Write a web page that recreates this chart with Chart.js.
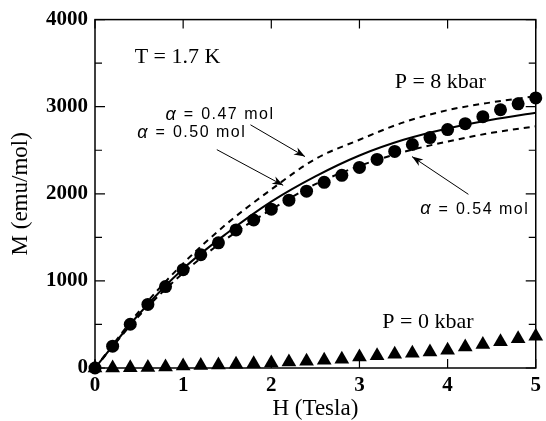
<!DOCTYPE html>
<html>
<head>
<meta charset="utf-8">
<script src="https://cdn.jsdelivr.net/npm/chart.js@4"></script>
<style>
  body { margin: 0; background: #fff; }
  canvas { display: block; }
</style>
</head>
<body>
<canvas id="mh-chart" width="546" height="421"></canvas>
<script>
// field points of the measurements (Tesla)
const fieldSteps = [0, 0.2, 0.4, 0.6, 0.8, 1.0, 1.2, 1.4, 1.6, 1.8, 2.0, 2.2, 2.4, 2.6, 2.8,
                    3.0, 3.2, 3.4, 3.6, 3.8, 4.0, 4.2, 4.4, 4.6, 4.8, 5.0];
// P = 8 kbar (circles)
const m8kbar = [0, 251, 502, 730, 935, 1129, 1300, 1437, 1585, 1699, 1824, 1927, 2030, 2132, 2212,
                2303, 2395, 2486, 2566, 2645, 2737, 2805, 2885, 2965, 3033, 3101];
// P = 0 kbar (triangles)
const m0kbar = [0, 0, 3, 6, 12, 22, 28, 35, 42, 50, 58, 68, 78, 88, 100,
                125, 140, 158, 170, 185, 205, 240, 270, 300, 335, 365];

// fitted curves
const fieldCurve = [0, 0.5, 1.0, 1.5, 2.0, 2.5, 3.0, 3.5, 4.0, 4.5, 5.0];
const fit047 = [0, 650, 1200, 1660, 2050, 2400, 2620, 2820, 2960, 3050, 3120];
const fit050 = [0, 620, 1140, 1550, 1910, 2200, 2440, 2620, 2750, 2850, 2930];
const fit054 = [0, 600, 1090, 1490, 1820, 2110, 2320, 2480, 2600, 2700, 2775];

const xTicks = [0, 1, 2, 3, 4, 5];
const yTicks = [0, 1000, 2000, 3000, 4000];
const yMinorTicks = [500, 1500, 2500, 3500];

const pts = (xs, ys) => xs.map((x, i) => ({x: x, y: ys[i]}));

// text notes, placed in data units
const notes = [
    {text: 'T = 1.7 K', x: 0.45, y: 3567, font: '22px "Liberation Serif"'},
    {text: 'P = 8 kbar', x: 3.40, y: 3282, font: '22px "Liberation Serif"'},
    {text: 'P = 0 kbar', x: 3.26, y: 524, font: '22px "Liberation Serif"'}
];
const alphaNotes = [
    {label: '0.47 mol', x: 0.80, y: 2906, from: [1.764, 2792], to: [2.382, 2427]},
    {label: '0.50 mol', x: 0.48, y: 2701, from: [1.382, 2507], to: [2.135, 2097]},
    {label: '0.54 mol', x: 3.69, y: 1823, from: [4.236, 1994], to: [3.596, 2427]}
];

const framePlugin = {
    id: 'frame',
    afterDraw(chart) {
        const ctx = chart.ctx;
        const xs = chart.scales.x, ys = chart.scales.y;
        const a = chart.chartArea;
        ctx.save();
        ctx.strokeStyle = '#000';
        ctx.lineWidth = 1.5;
        ctx.strokeRect(a.left, a.top, a.right - a.left, a.bottom - a.top);
        ctx.lineWidth = 1.2;
        ctx.beginPath();
        xTicks.forEach(v => {
            const px = xs.getPixelForValue(v);
            ctx.moveTo(px, a.bottom); ctx.lineTo(px, a.bottom - 9);
            ctx.moveTo(px, a.top); ctx.lineTo(px, a.top + 9);
        });
        yTicks.forEach(v => {
            const py = ys.getPixelForValue(v);
            ctx.moveTo(a.left, py); ctx.lineTo(a.left + 10, py);
            ctx.moveTo(a.right, py); ctx.lineTo(a.right - 10, py);
        });
        yMinorTicks.forEach(v => {
            const py = ys.getPixelForValue(v);
            ctx.moveTo(a.left, py); ctx.lineTo(a.left + 7, py);
            ctx.moveTo(a.right, py); ctx.lineTo(a.right - 7, py);
        });
        ctx.stroke();

        // notes
        ctx.fillStyle = '#000';
        ctx.textBaseline = 'middle';
        ctx.textAlign = 'left';
        notes.forEach(n => {
            ctx.font = n.font;
            ctx.fillText(n.text, xs.getPixelForValue(n.x), ys.getPixelForValue(n.y));
        });
        alphaNotes.forEach(n => {
            let px = xs.getPixelForValue(n.x);
            const py = ys.getPixelForValue(n.y);
            ctx.letterSpacing = '0px';
            ctx.font = 'italic 18px "Liberation Sans"';
            ctx.fillText('\u03b1', px, py);
            px += ctx.measureText('\u03b1').width + 8;
            ctx.font = '16px "Liberation Sans"';
            ctx.fillText('=', px, py);
            px += ctx.measureText('=').width + 8;
            ctx.letterSpacing = '1.5px';
            ctx.fillText(n.label, px, py);
            ctx.letterSpacing = '0px';

            // arrow
            const x0 = xs.getPixelForValue(n.from[0]), y0 = ys.getPixelForValue(n.from[1]);
            const x1 = xs.getPixelForValue(n.to[0]), y1 = ys.getPixelForValue(n.to[1]);
            ctx.lineWidth = 1;
            ctx.beginPath();
            ctx.moveTo(x0, y0); ctx.lineTo(x1, y1);
            ctx.stroke();
            const ang = Math.atan2(y1 - y0, x1 - x0);
            const len = 11, half = 4;
            ctx.beginPath();
            ctx.moveTo(x1, y1);
            ctx.lineTo(x1 - len * Math.cos(ang) + half * Math.sin(ang), y1 - len * Math.sin(ang) - half * Math.cos(ang));
            ctx.lineTo(x1 - 0.7 * len * Math.cos(ang), y1 - 0.7 * len * Math.sin(ang));
            ctx.lineTo(x1 - len * Math.cos(ang) - half * Math.sin(ang), y1 - len * Math.sin(ang) + half * Math.cos(ang));
            ctx.closePath();
            ctx.fill();
        });
        ctx.restore();
    }
};

let mhChart = new Chart(document.getElementById('mh-chart'), {
    type: 'scatter',
    data: {
        datasets: [{
            label: 'alpha 0.47',
            data: pts(fieldCurve, fit047),
            showLine: true,
            borderColor: '#000',
            borderWidth: 2,
            borderDash: [6, 5],
            pointRadius: 0,
            cubicInterpolationMode: 'monotone'
        }, {
            label: 'alpha 0.50',
            data: pts(fieldCurve, fit050),
            showLine: true,
            borderColor: '#000',
            borderWidth: 2,
            pointRadius: 0,
            cubicInterpolationMode: 'monotone'
        }, {
            label: 'alpha 0.54',
            data: pts(fieldCurve, fit054),
            showLine: true,
            borderColor: '#000',
            borderWidth: 2,
            borderDash: [6, 5],
            pointRadius: 0,
            cubicInterpolationMode: 'monotone'
        }, {
            label: 'P = 8 kbar',
            data: pts(fieldSteps, m8kbar),
            pointStyle: 'circle',
            pointRadius: 6.5,
            backgroundColor: '#000',
            borderColor: '#000',
            borderWidth: 0
        }, {
            label: 'P = 0 kbar',
            data: pts(fieldSteps, m0kbar),
            pointStyle: 'triangle',
            pointRadius: 8.5,
            backgroundColor: '#000',
            borderColor: '#000',
            borderWidth: 0
        }]
    },
    options: {
        responsive: false,
        animation: false,
        clip: false,
        layout: {padding: {top: 17, right: 6, left: 0, bottom: 0}},
        plugins: {
            legend: {display: false},
            tooltip: {enabled: false}
        },
        scales: {
            x: {
                type: 'linear',
                min: 0,
                max: 5,
                afterFit: s => { s.height = 53; },
                afterBuildTicks: s => { s.ticks = xTicks.map(v => ({value: v})); },
                grid: {display: false, drawTicks: false},
                border: {display: false},
                ticks: {
                    padding: 5,
                    color: '#000',
                    callback: v => String(v),
                    font: {family: '"Liberation Serif"', size: 21, weight: 'bold'}
                },
                title: {
                    display: true,
                    text: 'H (Tesla)',
                    color: '#000',
                    font: {family: '"Liberation Serif"', size: 23, lineHeight: 1},
                    padding: {top: 0, bottom: 1}
                }
            },
            y: {
                type: 'linear',
                min: 0,
                max: 4000,
                afterFit: s => { s.width = 95; },
                afterBuildTicks: s => { s.ticks = yTicks.map(v => ({value: v})); },
                grid: {display: false, drawTicks: false},
                border: {display: false},
                ticks: {
                    padding: 7,
                    color: '#000',
                    callback: v => String(v),
                    font: {family: '"Liberation Serif"', size: 21, weight: 'bold'}
                },
                title: {
                    display: true,
                    text: 'M (emu/mol)',
                    color: '#000',
                    font: {family: '"Liberation Serif"', size: 23, lineHeight: 1},
                    padding: {top: 9, bottom: 0}
                }
            }
        }
    },
    plugins: [framePlugin]
});
</script>
</body>
</html>
